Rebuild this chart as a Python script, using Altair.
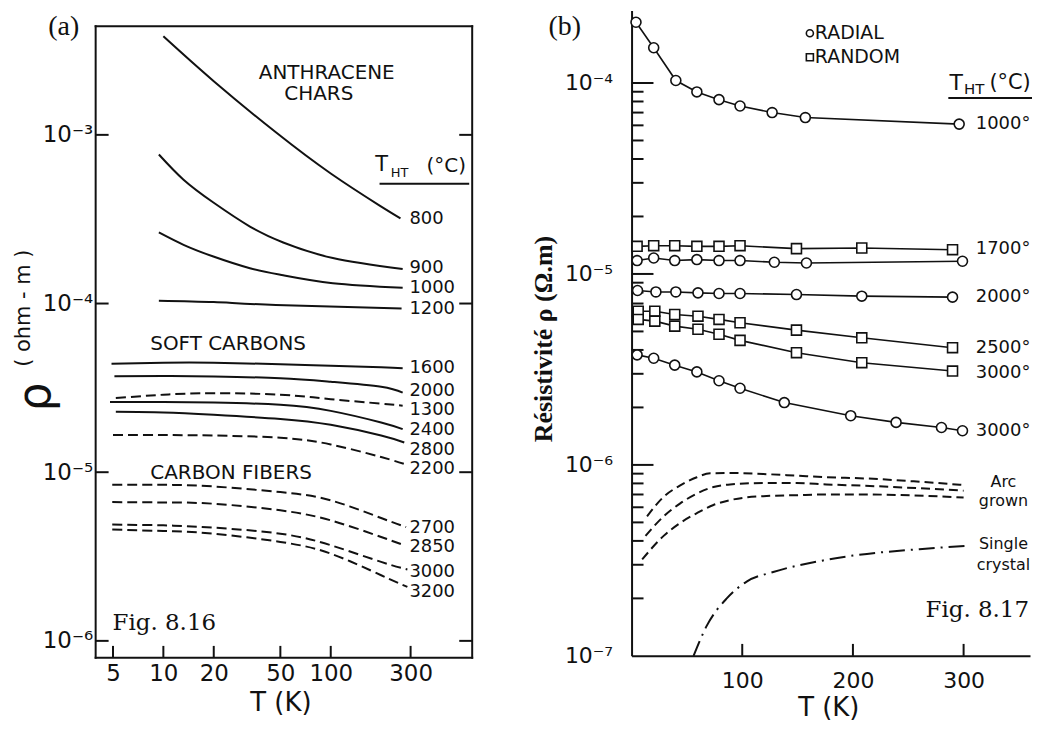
import altair as alt
import pandas as pd

INK = "#111111"
SANS = "DejaVu Sans"
SERIF = "Liberation Serif"

# ---------------- Panel (a) values ----------------
a_x_ticks = [5, 10, 20, 50, 100, 300]
a_y_ticks = [1e-6, 1e-5, 1e-4, 1e-3]

T_800 = [10, 20, 47, 100, 196, 261]
R_800 = [3.84e-3, 2.08e-3, 1.035e-3, 5.9e-4, 3.81e-4, 3.2e-4]
T_900 = [9.4, 13.2, 19.9, 32.9, 52, 103, 269]
R_900 = [7.65e-4, 5.42e-4, 3.97e-4, 2.86e-4, 2.30e-4, 1.86e-4, 1.60e-4]
T_1000 = [9.4, 13.2, 19.9, 32.9, 52, 103, 269]
R_1000 = [2.64e-4, 2.23e-4, 1.90e-4, 1.62e-4, 1.47e-4, 1.32e-4, 1.24e-4]
T_1200 = [9.4, 20, 47, 265]
R_1200 = [1.04e-4, 1.02e-4, 9.8e-5, 9.35e-5]
T_1600 = [4.9, 10, 20, 50, 100, 200, 269]
R_1600 = [4.40e-5, 4.46e-5, 4.46e-5, 4.36e-5, 4.28e-5, 4.19e-5, 4.13e-5]
T_2000 = [5.1, 10, 20, 50, 100, 200, 269]
R_2000 = [3.71e-5, 3.72e-5, 3.69e-5, 3.61e-5, 3.44e-5, 3.21e-5, 2.96e-5]
T_1300 = [5.2, 10, 20, 50, 100, 200, 269]
R_1300 = [2.75e-5, 2.88e-5, 2.94e-5, 2.88e-5, 2.71e-5, 2.55e-5, 2.48e-5]
T_2400 = [4.8, 10, 20, 50, 100, 200, 269]
R_2400 = [2.61e-5, 2.61e-5, 2.59e-5, 2.51e-5, 2.31e-5, 1.97e-5, 1.80e-5]
T_2800 = [5.2, 10, 20, 50, 100, 200, 275]
R_2800 = [2.28e-5, 2.26e-5, 2.19e-5, 2.07e-5, 1.91e-5, 1.65e-5, 1.50e-5]
T_2200 = [5.0, 10, 20, 50, 100, 200, 282]
R_2200 = [1.66e-5, 1.66e-5, 1.65e-5, 1.60e-5, 1.46e-5, 1.23e-5, 1.11e-5]
T_2700 = [4.95, 10, 20, 50, 100, 200, 282]
R_2700 = [8.42e-6, 8.42e-6, 8.23e-6, 7.62e-6, 6.81e-6, 5.35e-6, 4.73e-6]
T_2850 = [4.95, 10, 20, 50, 100, 200, 275]
R_2850 = [6.65e-6, 6.62e-6, 6.50e-6, 5.94e-6, 5.18e-6, 4.13e-6, 3.69e-6]
T_3000 = [4.95, 10, 20, 50, 100, 200, 287]
R_3000 = [4.89e-6, 4.84e-6, 4.69e-6, 4.32e-6, 3.69e-6, 2.94e-6, 2.65e-6]
T_3200 = [4.95, 10, 20, 50, 100, 200, 287]
R_3200 = [4.57e-6, 4.48e-6, 4.32e-6, 3.86e-6, 3.29e-6, 2.45e-6, 2.09e-6]

a_solid = ["800", "900", "1000", "1200", "1600", "2000", "2400", "2800"]
a_dashed = ["1300", "2200", "2700", "2850", "3000", "3200"]

a_label_text = ["800", "900", "1000", "1200", "1600", "2000", "1300",
                "2400", "2800", "2200", "2700", "2850", "3000", "3200"]
a_label_rho = [3.19e-4, 1.62e-4, 1.23e-4, 9.27e-5, 4.15e-5, 3.04e-5, 2.34e-5,
               1.79e-5, 1.36e-5, 1.05e-5, 4.65e-6, 3.59e-6, 2.57e-6, 1.96e-6]
a_label_T = 295

# ---------------- Panel (b) values ----------------
b_x_ticks = [100, 200, 300]
b_y_major = [1e-4, 1e-5, 1e-6, 1e-7]
b_y_minor_mult = [2, 3, 4, 5, 6, 7, 8, 9]
b_y_minor_decades = [1e-5, 1e-6, 1e-7]

rad1000_T = [4, 20, 40, 59, 79, 98, 127, 157, 296]
rad1000_R = [2.08e-4, 1.53e-4, 1.03e-4, 8.98e-5, 8.18e-5, 7.58e-5, 7.00e-5, 6.59e-5, 6.09e-5]
ran1700_T = [5, 20, 39, 59, 79, 98, 149, 208, 290]
ran1700_R = [1.395e-5, 1.406e-5, 1.406e-5, 1.395e-5, 1.395e-5, 1.406e-5, 1.357e-5, 1.367e-5, 1.34e-5]
rad1700_T = [5, 20, 39, 59, 79, 98, 129, 158, 299]
rad1700_R = [1.175e-5, 1.212e-5, 1.175e-5, 1.189e-5, 1.175e-5, 1.175e-5, 1.151e-5, 1.141e-5, 1.165e-5]
rad2000_T = [5.4, 22, 40, 60, 79, 98, 149, 208, 290]
rad2000_R = [8.19e-6, 8.05e-6, 8.05e-6, 7.96e-6, 7.90e-6, 7.90e-6, 7.80e-6, 7.65e-6, 7.56e-6]
ran2500_T = [6, 21, 39, 60, 79, 98, 149, 208, 290]
ran2500_R = [6.38e-6, 6.38e-6, 6.13e-6, 6.01e-6, 5.78e-6, 5.55e-6, 5.08e-6, 4.63e-6, 4.11e-6]
ran3000_T = [6, 21, 39, 60, 79, 98, 149, 208, 290]
ran3000_R = [5.78e-6, 5.66e-6, 5.33e-6, 5.13e-6, 4.83e-6, 4.49e-6, 3.87e-6, 3.43e-6, 3.10e-6]
rad3000_T = [5, 20, 39, 59, 79, 98, 138, 198, 239, 280, 299]
rad3000_R = [3.77e-6, 3.62e-6, 3.33e-6, 3.07e-6, 2.76e-6, 2.52e-6, 2.12e-6, 1.81e-6, 1.67e-6, 1.57e-6, 1.51e-6]

arc1_T = [14, 29, 44, 59, 71, 89, 119, 149, 176, 210, 255, 300]
arc1_R = [5.38e-7, 6.81e-7, 7.81e-7, 8.62e-7, 9.04e-7, 9.07e-7, 8.96e-7, 8.78e-7, 8.62e-7, 8.5e-7, 8.2e-7, 7.85e-7]
arc2_T = [12.6, 29, 44, 59, 74, 89, 119, 149, 176, 210, 300]
arc2_R = [4.25e-7, 5.38e-7, 6.29e-7, 7.08e-7, 7.66e-7, 7.90e-7, 8.03e-7, 8.03e-7, 7.90e-7, 7.78e-7, 7.33e-7]
arc3_T = [9.6, 29, 44, 59, 74, 89, 119, 149, 176, 210, 300]
arc3_R = [3.20e-7, 4.25e-7, 4.97e-7, 5.59e-7, 6.17e-7, 6.54e-7, 6.86e-7, 6.94e-7, 7.00e-7, 7.00e-7, 6.75e-7]
single_T = [56, 68, 86, 104, 128, 173, 200, 260, 304]
single_R = [1.0e-7, 1.44e-7, 2.0e-7, 2.45e-7, 2.75e-7, 3.16e-7, 3.35e-7, 3.62e-7, 3.77e-7]

b_label_text = ["1000°", "1700°", "2000°", "2500°", "3000°", "3000°"]
b_label_rho = [6.11e-5, 1.35e-5, 7.55e-6, 4.09e-6, 3.03e-6, 1.51e-6]
b_label_T = 311
b_note_text = ["Arc", "grown", "Single", "crystal"]
b_note_rho = [8.1e-7, 6.45e-7, 3.84e-7, 2.99e-7]
b_note_T = 336

# ---------------- helpers ----------------
one = pd.DataFrame({"k": [0]})
SUP = "['\u2070','\u00b9','\u00b2','\u00b3','\u2074','\u2075','\u2076','\u2077','\u2078','\u2079']"
SUP_EXPR = "'10\u207b' + " + SUP + "[-round(log(datum.value)/LN10)]"


def long_df(items):
    rows = []
    for name, T, R in items:
        for t, r in zip(T, R):
            rows.append({"series": name, "T": t, "rho": r})
    return pd.DataFrame(rows)


def ptext(txt, x, y, size, font=SANS, align="center", angle=0, weight="normal"):
    return alt.Chart(one).mark_text(
        text=txt, font=font, fontSize=size, align=align, baseline="middle",
        angle=angle, fontWeight=weight, color=INK
    ).encode(x=alt.value(x), y=alt.value(y))


def hrule(x1, x2, y, w=2):
    return alt.Chart(one).mark_rule(color=INK, strokeWidth=w, strokeCap="square").encode(
        x=alt.value(x1), x2=alt.value(x2), y=alt.value(y))


def vrule(x, y1, y2, w=2):
    return alt.Chart(one).mark_rule(color=INK, strokeWidth=w, strokeCap="square").encode(
        x=alt.value(x), y=alt.value(y1), y2=alt.value(y2))


# ---------------- Panel (a) ----------------
WA, HA = 378, 650
TOP_A = 16  # frame top inside the panel
xsa = alt.Scale(type="log", domain=[3.94, 700], nice=False)
ysa = alt.Scale(type="log", domain=[7.93e-7, 5.47e-3], nice=False)
ax_ax = alt.Axis(values=a_x_ticks, format="d", ticks=False, tickSize=0, domain=False,
                 grid=False, labelFont=SANS, labelFontSize=23, labelColor=INK,
                 labelPadding=5, labelFlush=False, labelOverlap=False, title=None)
ax_ay = alt.Axis(values=a_y_ticks, labelExpr=SUP_EXPR, ticks=False, tickSize=0,
                 domain=False, grid=False, labelFont=SANS, labelFontSize=23,
                 labelColor=INK, labelPadding=3, labelOverlap=False, title=None)
XA = lambda f: alt.X(f, scale=xsa, axis=ax_ax)
YA = lambda f: alt.Y(f, scale=ysa, axis=ax_ay)

a_all = {
    "800": (T_800, R_800), "900": (T_900, R_900), "1000": (T_1000, R_1000),
    "1200": (T_1200, R_1200), "1600": (T_1600, R_1600), "2000": (T_2000, R_2000),
    "1300": (T_1300, R_1300), "2400": (T_2400, R_2400), "2800": (T_2800, R_2800),
    "2200": (T_2200, R_2200), "2700": (T_2700, R_2700), "2850": (T_2850, R_2850),
    "3000": (T_3000, R_3000), "3200": (T_3200, R_3200),
}
df_a_solid = long_df([(n,) + a_all[n] for n in a_solid])
df_a_dash = long_df([(n,) + a_all[n] for n in a_dashed])

a_lines_solid = alt.Chart(df_a_solid).mark_line(
    color=INK, strokeWidth=2, interpolate="natural"
).encode(x=XA("T:Q"), y=YA("rho:Q"), detail="series:N")
a_lines_dash = alt.Chart(df_a_dash).mark_line(
    color=INK, strokeWidth=2, interpolate="natural", strokeDash=[10, 5]
).encode(x=XA("T:Q"), y=YA("rho:Q"), detail="series:N")

a_labels = alt.Chart(pd.DataFrame({"t": a_label_text, "rho": a_label_rho, "T": a_label_T})).mark_text(
    font=SANS, fontSize=18, align="left", baseline="middle", color=INK
).encode(x=XA("T:Q"), y=YA("rho:Q"), text="t:N")

a_yt_left = alt.Chart(pd.DataFrame({"v": a_y_ticks})).mark_rule(color=INK, strokeWidth=2).encode(
    y=YA("v:Q"), x=alt.value(0), x2=alt.value(13))
a_yt_right = alt.Chart(pd.DataFrame({"v": a_y_ticks})).mark_rule(color=INK, strokeWidth=2).encode(
    y=YA("v:Q"), x=alt.value(WA - 13), x2=alt.value(WA))
a_xt = alt.Chart(pd.DataFrame({"v": a_x_ticks})).mark_rule(color=INK, strokeWidth=2).encode(
    x=XA("v:Q"), y=alt.value(HA), y2=alt.value(HA - 12))

anchor_a = alt.Chart(one).mark_point(opacity=0, size=1).encode(
    x=alt.value(-87), y=alt.value(300))

panel_a = alt.layer(
    anchor_a,
    hrule(0, WA, TOP_A), hrule(0, WA, HA), vrule(0, TOP_A, HA), vrule(WA, TOP_A, HA),
    a_yt_left, a_yt_right, a_xt, a_lines_solid, a_lines_dash, a_labels,
    ptext("ANTHRACENE", 232, 63, 20),
    ptext("CHARS", 224, 84, 20),
    ptext("SOFT CARBONS", 133, 335, 20),
    ptext("CARBON FIBERS", 136, 464, 20),
    ptext("T", 287, 155, 21),
    ptext("HT", 305, 163, 13),
    ptext("(°C)", 352, 156, 20),
    hrule(286, 374, 174),
    ptext("Fig. 8.16", 17, 615, 23, font="DejaVu Serif", align="left"),
    ptext("T  (K)", 186, 695, 26),
    ptext("ρ", -60, 388, 46, angle=270),
    ptext("( ohm - m )", -72, 299, 21, angle=270),
    ptext("(a)", -32, 17, 28, font=SERIF),
).properties(width=WA, height=HA, view=alt.ViewBackground(stroke="transparent"))

# ---------------- Panel (b) ----------------
WB, HB = 400, 648
xsb = alt.Scale(type="linear", domain=[0, 360], nice=False, zero=False)
ysb = alt.Scale(type="log", domain=[1e-7, 2.4e-4], nice=False)
ax_bx = alt.Axis(values=b_x_ticks, format="d", ticks=False, tickSize=0, domain=True,
                 domainColor=INK, domainWidth=2, grid=False, labelFont=SANS,
                 labelFontSize=22, labelColor=INK, labelPadding=15, labelFlush=False,
                 labelOverlap=False, title=None)
ax_by = alt.Axis(values=b_y_major, labelExpr=SUP_EXPR, ticks=False, tickSize=0,
                 domain=True, domainColor=INK, domainWidth=2, grid=False,
                 labelFont=SANS, labelFontSize=22, labelColor=INK, labelPadding=19,
                 labelOverlap=False, labelFlush=False, title=None)
XB = lambda f: alt.X(f, scale=xsb, axis=ax_bx)
YB = lambda f: alt.Y(f, scale=ysb, axis=ax_by)

df_b_circ = long_df([("r1000", rad1000_T, rad1000_R), ("r1700", rad1700_T, rad1700_R),
                     ("r2000", rad2000_T, rad2000_R), ("r3000", rad3000_T, rad3000_R)])
df_b_sq = long_df([("s1700", ran1700_T, ran1700_R), ("s2500", ran2500_T, ran2500_R),
                   ("s3000", ran3000_T, ran3000_R)])
df_b_arc = long_df([("a1", arc1_T, arc1_R), ("a2", arc2_T, arc2_R), ("a3", arc3_T, arc3_R)])
df_b_single = long_df([("sc", single_T, single_R)])
df_b_pts = pd.concat([df_b_circ, df_b_sq])

b_lines = alt.Chart(df_b_pts).mark_line(color=INK, strokeWidth=1.6).encode(
    x=XB("T:Q"), y=YB("rho:Q"), detail="series:N")
b_circles = alt.Chart(df_b_circ).mark_point(
    shape="circle", filled=True, fill="white", stroke=INK, strokeWidth=1.6,
    size=100, opacity=1).encode(x=XB("T:Q"), y=YB("rho:Q"))
b_squares = alt.Chart(df_b_sq).mark_point(
    shape="square", filled=True, fill="white", stroke=INK, strokeWidth=1.6,
    size=100, opacity=1).encode(x=XB("T:Q"), y=YB("rho:Q"))
b_arc = alt.Chart(df_b_arc).mark_line(
    color=INK, strokeWidth=2, interpolate="monotone", strokeDash=[9, 5]
).encode(x=XB("T:Q"), y=YB("rho:Q"), detail="series:N")
b_single = alt.Chart(df_b_single).mark_line(
    color=INK, strokeWidth=2, interpolate="monotone", strokeDash=[16, 6, 2, 6]
).encode(x=XB("T:Q"), y=YB("rho:Q"))

b_labels = alt.Chart(pd.DataFrame({"t": b_label_text, "rho": b_label_rho, "T": b_label_T})).mark_text(
    font=SANS, fontSize=18, align="left", baseline="middle", color=INK
).encode(x=XB("T:Q"), y=YB("rho:Q"), text="t:N")
b_notes = alt.Chart(pd.DataFrame({"t": b_note_text, "rho": b_note_rho, "T": b_note_T})).mark_text(
    font=SANS, fontSize=16, align="center", baseline="middle", color=INK
).encode(x=XB("T:Q"), y=YB("rho:Q"), text="t:N")

minor_vals = [m * d for d in b_y_minor_decades for m in b_y_minor_mult]
b_yt_major = alt.Chart(pd.DataFrame({"v": b_y_major[:-1]})).mark_rule(color=INK, strokeWidth=2).encode(
    y=YB("v:Q"), x=alt.value(0), x2=alt.value(22))
b_yt_minor = alt.Chart(pd.DataFrame({"v": minor_vals})).mark_rule(color=INK, strokeWidth=2).encode(
    y=YB("v:Q"), x=alt.value(0), x2=alt.value(12))
b_xt = alt.Chart(pd.DataFrame({"v": b_x_ticks})).mark_rule(color=INK, strokeWidth=2).encode(
    x=XB("v:Q"), y=alt.value(HB), y2=alt.value(HB - 12))

leg_circle = alt.Chart(one).mark_point(shape="circle", filled=True, fill="white", stroke=INK,
                                       strokeWidth=1.6, size=50, opacity=1).encode(
    x=alt.value(179), y=alt.value(23))
leg_square = alt.Chart(one).mark_point(shape="square", filled=True, fill="white", stroke=INK,
                                       strokeWidth=1.6, size=50, opacity=1).encode(
    x=alt.value(179), y=alt.value(47))

anchor_b = alt.Chart(one).mark_point(opacity=0, size=1).encode(
    x=alt.value(-157), y=alt.value(300))

panel_b = alt.layer(
    anchor_b, b_yt_major, b_yt_minor, b_xt, b_arc, b_single, b_lines, b_circles, b_squares,
    b_labels, b_notes, leg_circle, leg_square,
    ptext("RADIAL", 184, 23, 19, align="left"),
    ptext("RANDOM", 184, 47, 19, align="left"),
    ptext("T", 326, 73, 22),
    ptext("HT", 344, 79, 15),
    ptext("(°C)", 380, 73, 21),
    hrule(319, 401, 88),
    ptext("Fig. 8.17", 399, 602, 23, font="DejaVu Serif", align="right"),
    ptext("T  (K)", 198, 700, 26),
    ptext("Résistivité ρ (Ω.m)", -88, 330, 26, font=SERIF, angle=270, weight="bold"),
    ptext("(b)", -67, 17, 28, font=SERIF),
).properties(width=WB, height=HB, view=alt.ViewBackground(stroke="transparent"))

chart = alt.hconcat(panel_a, panel_b, spacing=0, padding=0, background="white")

chart.save("out.html", embed_options={"renderer": "svg", "actions": False})
